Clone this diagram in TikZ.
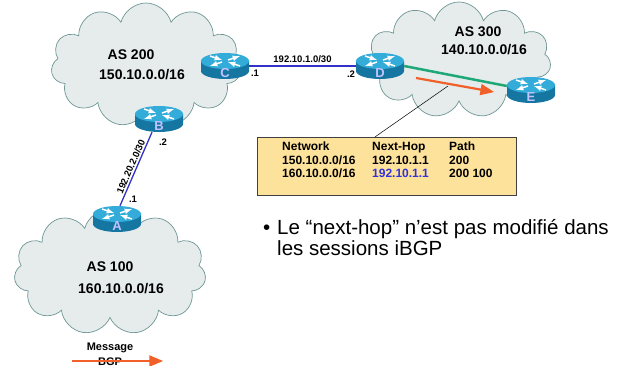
\documentclass[tikz,border=0pt]{standalone}
\usepackage{fontspec}
\setmainfont{Liberation Sans}
\usepackage{xcolor}
\usetikzlibrary{shapes.symbols, arrows}

\definecolor{cloudfill}{RGB}{230,236,236}
\definecolor{cloudline}{RGB}{110,150,150}
\definecolor{linkblue}{RGB}{50,50,200}
\definecolor{ibgpgreen}{RGB}{30,168,120}
\definecolor{msgorange}{RGB}{240,96,40}
\definecolor{tabfill}{RGB}{253,226,155}
\definecolor{routertop}{RGB}{52,172,218}
\definecolor{routerside}{RGB}{22,118,162}
\definecolor{routerletter}{RGB}{195,195,255}
\definecolor{hopblue}{RGB}{50,50,220}

% router icon: name, position, letter
\newcommand{\router}[3]{%
  \begin{scope}[shift={(#2)}]
    \fill[routerside] (-24,-5) -- (-24,5) arc[start angle=180, end angle=0, x radius=24, y radius=8] -- (24,-5) -- cycle;
    \fill[routertop] (0,-5) ellipse[x radius=24, y radius=8];
    \draw[routerarrow] (-15,-10) -- (-3,-6);
    \draw[routerarrow] (15,0) -- (3,-4);
    \draw[routerarrow] (3,-6) -- (15,-10);
    \draw[routerarrow] (-3,-4) -- (-15,0);
  \end{scope}
  \node[routerbox] (#1) at (#2) {};
  \node[routerlabel] (#1label) at ([yshift=-7pt]#1.center) {#3};
}

\begin{document}
\begin{tikzpicture}[x=1pt, y=-1pt,
    ascloud/.style={cloud, cloud puffs=11, cloud ignores aspect, draw=cloudline, fill=cloudfill, line width=0.7pt, inner sep=0pt},
    astext/.style={font=\bfseries\fontsize{14}{16}\selectfont, inner sep=0pt},
    routerbox/.style={minimum width=48pt, minimum height=26pt, inner sep=0pt},
    routerlabel/.style={font=\bfseries\fontsize{13}{14}\selectfont, text=routerletter, inner sep=0pt},
    routerarrow/.style={white, line width=1.5pt, -latex},
    link/.style={draw=linkblue, line width=1.3pt},
    linktext/.style={font=\bfseries\fontsize{9.5}{11}\selectfont, inner sep=1pt},
    msg/.style={draw=msgorange, line width=2.2pt, -triangle 45}]
  \useasboundingbox (0,0) rectangle (623,366);

  % autonomous systems
  \node[ascloud, minimum width=190pt, minimum height=124pt] (AS200) at (146,65) {};
  \node[ascloud, minimum width=184pt, minimum height=116pt] (AS300) at (459,60) {};
  \node[ascloud, minimum width=192pt, minimum height=126pt] (AS100) at (110,272) {};

  \node[astext] (as200name) at (131,55) {AS 200};
  \node[astext] (as200net) at (142,75) {150.10.0.0/16};
  \node[astext] (as300name) at (478,32) {AS 300};
  \node[astext] (as300net) at (484,50) {140.10.0.0/16};
  \node[astext] (as100name) at (110,267) {AS 100};
  \node[astext] (as100net) at (121,289) {160.10.0.0/16};

  % routers
  \router{C}{225,66}{C}
  \router{B}{159,119}{B}
  \router{D}{380,66}{D}
  \router{E}{531,90}{E}
  \router{A}{117,219}{A}

  % links
  \draw[link] (C.east) -- (D.west)
    node[midway, above=2pt, linktext] {192.10.1.0/30};
  \node[linktext] (c1) at (255,73) {.1};
  \node[linktext] (d2) at (351,74) {.2};

  \draw[link] ([xshift=3pt]A.north) -- ([xshift=-7pt]B.south)
    node[midway, sloped, above=1.5pt, linktext, inner sep=0pt] {192.20.2.0/30};
  \node[linktext] (b2) at (163,142) {.2};
  \node[linktext] (a1) at (133,199) {.1};

  \draw[ibgpgreen, line width=2.5pt] (D.east) -- ([yshift=4pt]E.west);

  \coordinate (m1) at (416,78);
  \coordinate (m2) at (494,92);
  \draw[msg] (m1) -- (m2);

  % BGP table of E
  \node[draw=black!75, fill=tabfill, line width=0.8pt, minimum width=259pt, minimum height=58pt, anchor=north west, inner sep=0pt] (tbl) at (257,137) {};
  \node[anchor=base west, inner sep=0pt, font=\bfseries\fontsize{12}{13.5}\selectfont] (rows) at (282,151)
    {\begin{tabular}[t]{@{}p{90pt}@{}p{77pt}@{}l@{}}
      Network & Next-Hop & Path\\
      150.10.0.0/16 & 192.10.1.1 & 200\\
      160.10.0.0/16 & \textcolor{hopblue}{192.10.1.1} & 200 100
    \end{tabular}};
  \coordinate (tip) at (448,86);
  \draw[line width=0.5pt] ([xshift=-12pt]tbl.north) -- (tip);

  % note
  \node[anchor=base west, inner sep=0pt, font=\fontsize{20.5}{21}\selectfont] (note) at (263,234)
    {\begin{tabular}[t]{@{}p{14pt}@{}l@{}}
      \textbullet & Le “next-hop” n’est pas modifié dans\\
      & les sessions iBGP
    \end{tabular}};

  % legend
  \node[font=\bfseries\fontsize{11}{12}\selectfont, inner sep=0pt] (msgtext) at (110,348) {Message};
  \node[font=\bfseries\fontsize{11}{12}\selectfont, inner sep=0pt] (bgptext) at (110,362) {BGP};
  \coordinate (leg1) at (72,361);
  \coordinate (leg2) at (163,361);
  \draw[msg] (leg1) -- (leg2);
\end{tikzpicture}
\end{document}
